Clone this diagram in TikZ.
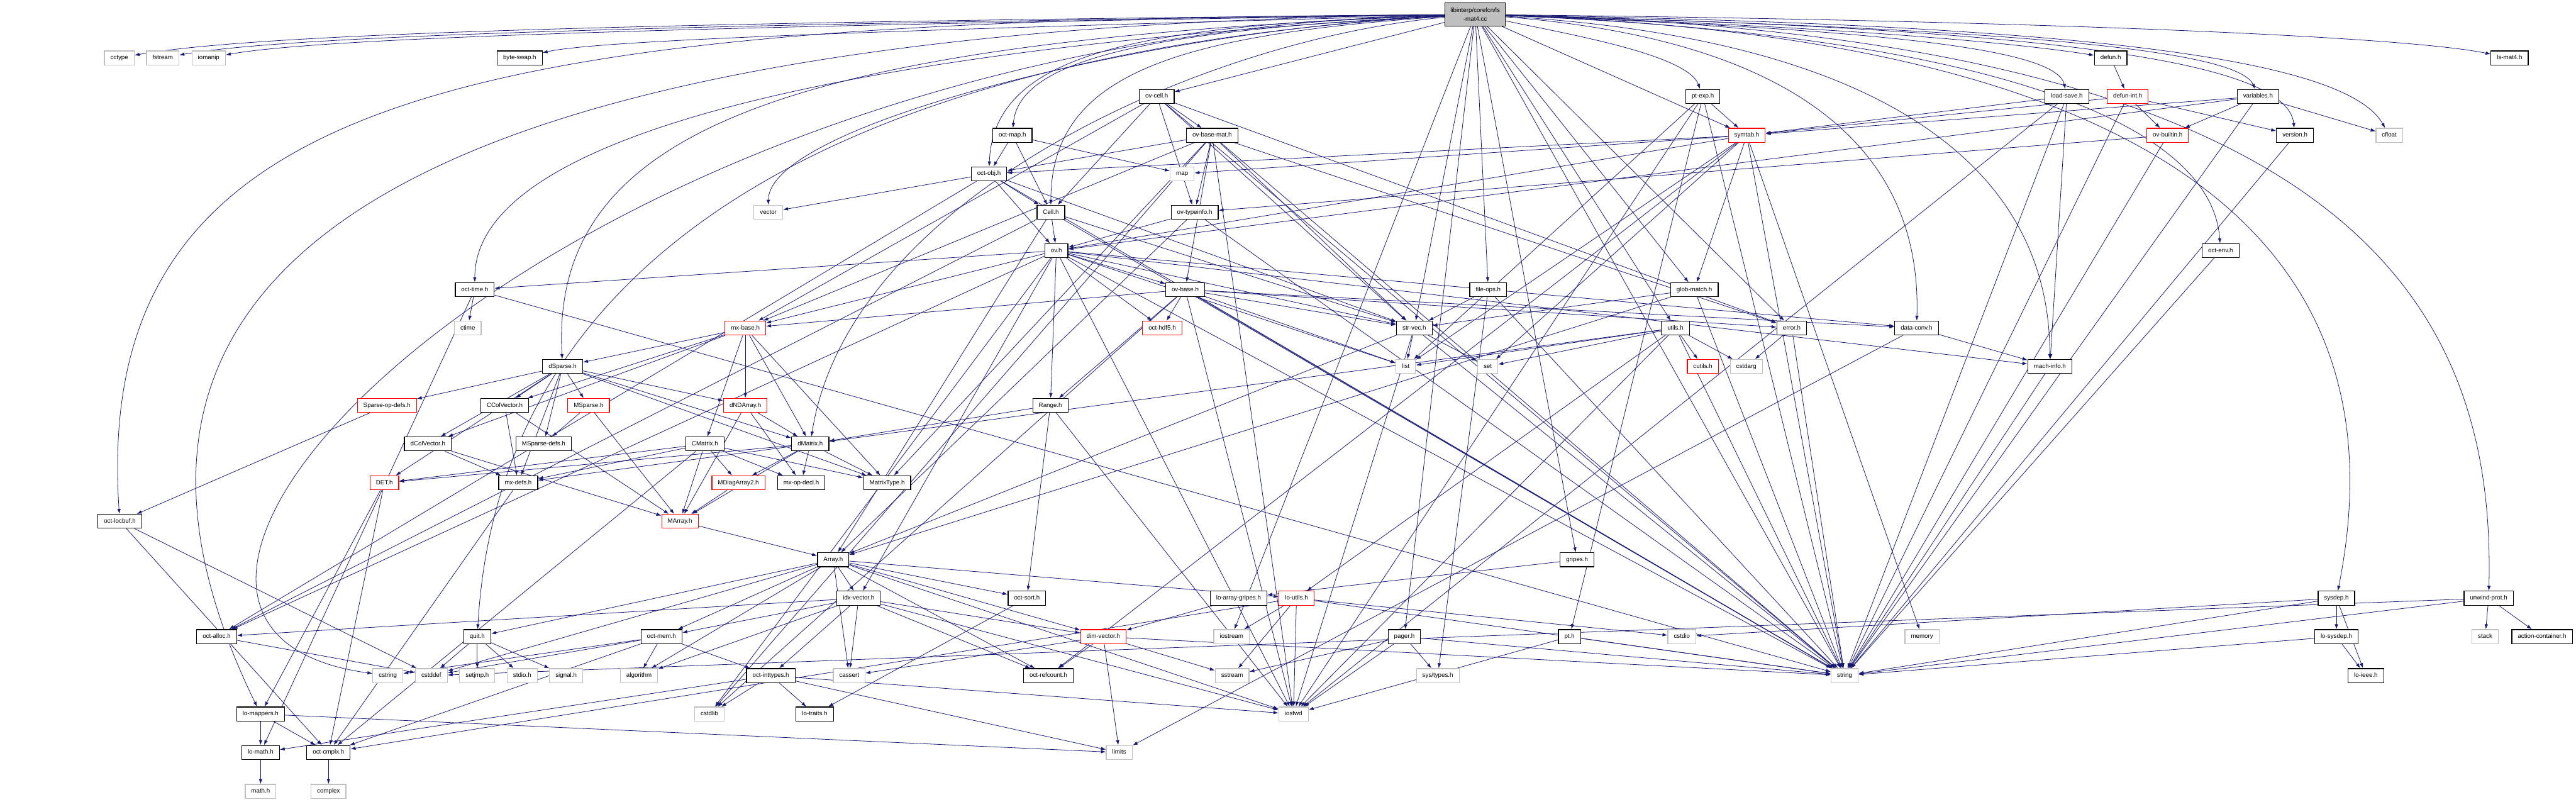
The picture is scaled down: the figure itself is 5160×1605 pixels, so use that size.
\documentclass[tikz,border=0pt]{standalone}
\usepackage{fontspec}
\setmainfont{Liberation Sans}
\usetikzlibrary{arrows.meta,backgrounds}
\definecolor{edgeblue}{HTML}{191970}
\definecolor{sysgray}{HTML}{BFBFBF}
\begin{document}
\begin{tikzpicture}[
  x=0.2mm, y=-0.2mm,
  hdr/.style={draw=black, line width=0.3mm, fill=white, inner xsep=2.4mm, inner ysep=0pt,
    minimum height=5.6mm, text height=1.85mm, text depth=0.5mm, font=\fontsize{7}{8}\selectfont},
  syshdr/.style={hdr, draw=sysgray},
  redhdr/.style={hdr, draw=red},
  srcfile/.style={draw=black, line width=0.3mm, fill=sysgray, align=center, inner xsep=2.2mm,
    minimum height=9.2mm, font=\fontsize{7}{9.5}\selectfont},
  dep/.style={->, draw=edgeblue, line width=0.2mm},
  >={Latex[length=2mm,width=1.4mm]}
]
\useasboundingbox (0,0) rectangle (5160,1605);

% source file
\node[srcfile] (lsmatcc) at (2955,29) {libinterp/corefcn/ls\\-mat4.cc};

% rank 1
\node[syshdr] (cctype) at (239,116) {cctype};
\node[syshdr] (fstream) at (326,116) {fstream};
\node[syshdr] (iomanip) at (418,116) {iomanip};
\node[hdr] (byteswap) at (1041,116) {byte-swap.h};
\node[hdr] (defun) at (4228,116) {defun.h};
\node[hdr] (lsmath) at (5027,116) {ls-mat4.h};
% rank 2
\node[hdr] (ovcell) at (2317,193) {ov-cell.h};
\node[hdr] (ptexp) at (3411,193) {pt-exp.h};
\node[hdr] (loadsave) at (4140,193) {load-save.h};
\node[redhdr] (defunint) at (4262,193) {defun-int.h};
\node[hdr] (variables) at (4523,193) {variables.h};
% rank 3
\node[hdr] (octmap) at (2028,271) {oct-map.h};
\node[hdr] (ovbasemat) at (2428,271) {ov-base-mat.h};
\node[redhdr] (symtab) at (3499,271) {symtab.h};
\node[redhdr] (ovbuiltin) at (4342,271) {ov-builtin.h};
\node[hdr] (version) at (4597,271) {version.h};
\node[syshdr] (cfloat) at (4786,271) {cfloat};
% rank 4
\node[hdr] (octobj) at (1981,348) {oct-obj.h};
\node[syshdr] (map) at (2368,348) {map};
% rank 5
\node[syshdr] (vector) at (1539,425) {vector};
\node[hdr] (cell) at (2105,425) {Cell.h};
\node[hdr] (ovtypeinfo) at (2393,425) {ov-typeinfo.h};
% rank 6
\node[hdr] (ov) at (2116,502) {ov.h};
\node[hdr] (octenv) at (4448,502) {oct-env.h};
% rank 7
\node[hdr] (octtime) at (951,580) {oct-time.h};
\node[hdr] (ovbase) at (2374,580) {ov-base.h};
\node[hdr] (fileops) at (2981,580) {file-ops.h};
\node[hdr] (globmatch) at (3394,580) {glob-match.h};
% rank 8
\node[syshdr] (ctime) at (937,657) {ctime};
\node[redhdr] (mxbase) at (1493,657) {mx-base.h};
\node[redhdr] (octhdf) at (2328,657) {oct-hdf5.h};
\node[hdr] (strvec) at (2833,657) {str-vec.h};
\node[hdr] (utils) at (3356,657) {utils.h};
\node[hdr] (error) at (3589,657) {error.h};
\node[hdr] (dataconv) at (3839,657) {data-conv.h};
% rank 9
\node[hdr] (dsparse) at (1127,734) {dSparse.h};
\node[syshdr] (list) at (2816,734) {list};
\node[syshdr] (set) at (2980,734) {set};
\node[redhdr] (cutils) at (3411,734) {cutils.h};
\node[syshdr] (cstdarg) at (3498,734) {cstdarg};
\node[hdr] (machinfo) at (4106,734) {mach-info.h};
% rank 10
\node[redhdr] (sparseopdefs) at (775,812) {Sparse-op-defs.h};
\node[hdr] (ccolvector) at (1011,812) {CColVector.h};
\node[redhdr] (msparse) at (1179,812) {MSparse.h};
\node[redhdr] (dndarray) at (1493,812) {dNDArray.h};
\node[hdr] (range) at (2104,812) {Range.h};
% rank 11
\node[hdr] (dcolvector) at (857,889) {dColVector.h};
\node[hdr] (msparsedefs) at (1089,889) {MSparse-defs.h};
\node[hdr] (cmatrix) at (1412,889) {CMatrix.h};
\node[hdr] (dmatrix) at (1623,889) {dMatrix.h};
% rank 12
\node[redhdr] (det) at (770,967) {DET.h};
\node[hdr] (mxdefs) at (1038,967) {mx-defs.h};
\node[redhdr] (mdiagarray) at (1479,967) {MDiagArray2.h};
\node[hdr] (mxopdecl) at (1605,967) {mx-op-decl.h};
\node[hdr] (matrixtype) at (1777,967) {MatrixType.h};
% rank 13
\node[hdr] (octlocbuf) at (240,1044) {oct-locbuf.h};
\node[redhdr] (marray) at (1362,1044) {MArray.h};
% rank 14
\node[hdr] (array) at (1669,1121) {Array.h};
\node[hdr] (gripes) at (3159,1121) {gripes.h};
% rank 15
\node[hdr] (idxvector) at (1720,1198) {idx-vector.h};
\node[hdr] (octsort) at (2057,1198) {oct-sort.h};
\node[hdr] (loarraygripes) at (2481,1198) {lo-array-gripes.h};
\node[redhdr] (loutils) at (2597,1198) {lo-utils.h};
\node[hdr] (sysdep) at (4680,1198) {sysdep.h};
\node[hdr] (unwindprot) at (4985,1198) {unwind-prot.h};
% rank 16
\node[hdr] (octalloc) at (434,1275) {oct-alloc.h};
\node[hdr] (quit) at (956,1275) {quit.h};
\node[hdr] (octmem) at (1325,1275) {oct-mem.h};
\node[redhdr] (dimvector) at (2210,1275) {dim-vector.h};
\node[syshdr] (iostream) at (2467,1275) {iostream};
\node[hdr] (pager) at (2813,1275) {pager.h};
\node[hdr] (pt) at (3144,1275) {pt.h};
\node[syshdr] (cstdio) at (3369,1275) {cstdio};
\node[syshdr] (memory) at (3850,1275) {memory};
\node[hdr] (losysdep) at (4680,1275) {lo-sysdep.h};
\node[syshdr] (stack) at (4978,1275) {stack};
\node[hdr] (actioncontainer) at (5092,1275) {action-container.h};
% rank 17
\node[syshdr] (cstring) at (777,1353) {cstring};
\node[syshdr] (cstddef) at (864,1353) {cstddef};
\node[syshdr] (setjmp) at (956,1353) {setjmp.h};
\node[syshdr] (stdio) at (1046,1353) {stdio.h};
\node[syshdr] (signal) at (1134,1353) {signal.h};
\node[syshdr] (algorithm) at (1280,1353) {algorithm};
\node[hdr] (octinttypes) at (1544,1353) {oct-inttypes.h};
\node[syshdr] (cassert) at (1701,1353) {cassert};
\node[hdr] (octrefcount) at (2100,1353) {oct-refcount.h};
\node[syshdr] (sstream) at (2468,1353) {sstream};
\node[syshdr] (systypes) at (2880,1353) {sys/types.h};
\node[syshdr] (string) at (3695,1353) {string};
\node[hdr] (loieee) at (4739,1353) {lo-ieee.h};
% rank 18
\node[hdr] (lomappers) at (522,1430) {lo-mappers.h};
\node[syshdr] (cstdlib) at (1421,1430) {cstdlib};
\node[hdr] (lotraits) at (1632,1430) {lo-traits.h};
\node[syshdr] (iosfwd) at (2591,1430) {iosfwd};
% rank 19
\node[hdr] (lomath) at (522,1507) {lo-math.h};
\node[hdr] (octcmplx) at (658,1507) {oct-cmplx.h};
\node[syshdr] (limits) at (2242,1507) {limits};
% rank 20
\node[syshdr] (mathh) at (522,1585) {math.h};
\node[syshdr] (complex) at (658,1585) {complex};

\begin{scope}[on background layer]
% includes of the source file
\draw[dep] (lsmatcc) .. controls (1200,45) and (500,70) .. (cctype);
\draw[dep] (lsmatcc) .. controls (1200,50) and (560,75) .. (fstream);
\draw[dep] (lsmatcc) .. controls (1200,55) and (620,80) .. (iomanip);
\draw[dep] (lsmatcc) .. controls (1800,60) and (1200,80) .. (byteswap);
\draw[dep] (lsmatcc) .. controls (1000,40) and (180,150) .. (octlocbuf);
\draw[dep] (lsmatcc) .. controls (1100,50) and (20,400) .. (lomappers);
\draw[dep] (lsmatcc) .. controls (1800,90) and (951,250) .. (octtime);
\draw[dep] (lsmatcc) .. controls (1700,100) and (1000,500) .. (quit);
\draw[dep] (lsmatcc) .. controls (1600,80) and (1100,250) .. (dsparse);
\draw[dep] (lsmatcc) .. controls (1100,70) and (20,1250) .. (cstring);
\draw[dep] (lsmatcc) .. controls (2300,60) and (1539,250) .. (vector);
\draw[dep] (lsmatcc) .. controls (2400,80) and (1700,400) .. (dmatrix);
\draw[dep] (lsmatcc) .. controls (2300,60) and (2040,120) .. (octmap);
\draw[dep] (lsmatcc) .. controls (2300,50) and (1990,100) .. (octobj);
\draw[dep] (lsmatcc) .. controls (2350,70) and (2105,150) .. (cell);
\draw[dep] (lsmatcc) -- (ovcell);
\draw[dep] (lsmatcc) -- (strvec);
\draw[dep] (lsmatcc) -- (fileops);
\draw[dep] (lsmatcc) -- (iostream);
\draw[dep] (lsmatcc) -- (pager);
\draw[dep] (lsmatcc) -- (gripes);
\draw[dep] (lsmatcc) -- (globmatch);
\draw[dep] (lsmatcc) -- (symtab);
\draw[dep] (lsmatcc) .. controls (3150,70) and (3380,110) .. (ptexp);
\draw[dep] (lsmatcc) -- (utils);
\draw[dep] (lsmatcc) -- (error);
\draw[dep] (lsmatcc) -- (string);
\draw[dep] (lsmatcc) .. controls (3600,80) and (3850,300) .. (dataconv);
\draw[dep] (lsmatcc) .. controls (3800,80) and (4106,350) .. (machinfo);
\draw[dep] (lsmatcc) .. controls (3600,50) and (4000,80) .. (defun);
\draw[dep] (lsmatcc) .. controls (4000,40) and (4800,70) .. (lsmath);
\draw[dep] (lsmatcc) .. controls (3800,60) and (4120,100) .. (loadsave);
\draw[dep] (lsmatcc) .. controls (3900,55) and (4480,90) .. (variables);
\draw[dep] (lsmatcc) .. controls (4000,55) and (4580,110) .. (version);
\draw[dep] (lsmatcc) .. controls (4200,50) and (4700,120) .. (cfloat);
\draw[dep] (lsmatcc) .. controls (4000,70) and (4430,250) .. (octenv);
\draw[dep] (lsmatcc) .. controls (4500,80) and (4800,600) .. (sysdep);
\draw[dep] (lsmatcc) .. controls (4700,70) and (5000,600) .. (unwindprot);

% interpreter headers
\draw[dep] (defun) -- (defunint);
\draw[dep] (defunint) -- (ovbuiltin);
\draw[dep] (defunint) -- (version);
\draw[dep] (defunint) -- (symtab);
\draw[dep] (defunint) -- (string);
\draw[dep] (loadsave) -- (symtab);
\draw[dep] (loadsave) -- (machinfo);
\draw[dep] (loadsave) -- (iosfwd);
\draw[dep] (loadsave) -- (string);
\draw[dep] (variables) -- (ovbuiltin);
\draw[dep] (variables) -- (symtab);
\draw[dep] (variables) -- (cfloat);
\draw[dep] (variables) -- (string);
\draw[dep] (variables) -- (ov);
\draw[dep] (ovbuiltin) -- (ovtypeinfo);
\draw[dep] (ovbuiltin) -- (string);
\draw[dep] (version) -- (string);
\draw[dep] (ptexp) -- (symtab);
\draw[dep] (ptexp) -- (pt);
\draw[dep] (ptexp) -- (list);
\draw[dep] (ptexp) -- (string);
\draw[dep] (ptexp) -- (iosfwd);
\draw[dep] (symtab) -- (map);
\draw[dep] (symtab) -- (octobj);
\draw[dep] (symtab) -- (globmatch);
\draw[dep] (symtab) -- (list);
\draw[dep] (symtab) -- (set);
\draw[dep] (symtab) -- (string);
\draw[dep] (symtab) -- (ov);
\draw[dep] (symtab) -- (octrefcount);
\draw[dep] (symtab) -- (memory);
\draw[dep] (ovcell) -- (cell);
\draw[dep] (ovcell) -- (ovbasemat);
\draw[dep] (ovcell) -- (ovtypeinfo);
\draw[dep] (ovcell) -- (mxbase);
\draw[dep] (ovcell) -- (strvec);
\draw[dep] (ovcell) -- (error);
\draw[dep] (ovcell) -- (string);
\draw[dep] (octmap) -- (octobj);
\draw[dep] (octmap) -- (cell);
\draw[dep] (octmap) -- (map);
\draw[dep] (ovbasemat) -- (octobj);
\draw[dep] (ovbasemat) -- (ovtypeinfo);
\draw[dep] (ovbasemat) -- (ovbase);
\draw[dep] (ovbasemat) -- (mxbase);
\draw[dep] (ovbasemat) -- (matrixtype);
\draw[dep] (ovbasemat) -- (strvec);
\draw[dep] (ovbasemat) -- (error);
\draw[dep] (ovbasemat) -- (cstdlib);
\draw[dep] (ovbasemat) -- (iosfwd);
\draw[dep] (ovbasemat) -- (string);
\draw[dep] (octobj) -- (vector);
\draw[dep] (octobj) -- (cell);
\draw[dep] (octobj) -- (ov);
\draw[dep] (octobj) -- (octalloc);
\draw[dep] (octobj) -- (strvec);
\draw[dep] (octobj) -- (string);
\draw[dep] (cell) -- (ov);
\draw[dep] (cell) -- (array);
\draw[dep] (cell) -- (octalloc);
\draw[dep] (cell) -- (strvec);
\draw[dep] (cell) -- (string);
\draw[dep] (ovtypeinfo) -- (ov);
\draw[dep] (ovtypeinfo) -- (array);
\draw[dep] (ovtypeinfo) -- (string);
\draw[dep] (ov) -- (ovbase);
\draw[dep] (ov) -- (range);
\draw[dep] (ov) -- (dataconv);
\draw[dep] (ov) -- (idxvector);
\draw[dep] (ov) -- (machinfo);
\draw[dep] (ov) -- (mxbase);
\draw[dep] (ov) -- (octalloc);
\draw[dep] (ov) -- (octtime);
\draw[dep] (ov) -- (strvec);
\draw[dep] (ov) -- (octhdf);
\draw[dep] (ov) -- (cstdlib);
\draw[dep] (ov) -- (iosfwd);
\draw[dep] (ov) -- (list);
\draw[dep] (ov) -- (string);
\draw[dep] (ovbase) -- (range);
\draw[dep] (ovbase) -- (dataconv);
\draw[dep] (ovbase) -- (mxbase);
\draw[dep] (ovbase) -- (strvec);
\draw[dep] (ovbase) -- (octhdf);
\draw[dep] (ovbase) -- (error);
\draw[dep] (ovbase) -- (cstdlib);
\draw[dep] (ovbase) -- (iosfwd);
\draw[dep] (ovbase) -- (list);
\draw[dep] (ovbase) -- (string);
\draw[dep] (octenv) -- (string);
\draw[dep] (octtime) -- (ctime);
\draw[dep] (octtime) -- (lomath);
\draw[dep] (octtime) -- (string);
\draw[dep] (fileops) -- (systypes);
\draw[dep] (fileops) -- (strvec);
\draw[dep] (fileops) -- (string);
\draw[dep] (globmatch) -- (strvec);
\draw[dep] (globmatch) -- (array);
\draw[dep] (globmatch) -- (string);
\draw[dep] (strvec) -- (list);
\draw[dep] (strvec) -- (set);
\draw[dep] (strvec) -- (iosfwd);
\draw[dep] (strvec) -- (array);
\draw[dep] (strvec) -- (string);
\draw[dep] (utils) -- (cutils);
\draw[dep] (utils) -- (cstdarg);
\draw[dep] (utils) -- (list);
\draw[dep] (utils) -- (set);
\draw[dep] (utils) -- (dmatrix);
\draw[dep] (utils) -- (loutils);
\draw[dep] (utils) -- (iosfwd);
\draw[dep] (utils) -- (string);
\draw[dep] (error) -- (cstdarg);
\draw[dep] (error) -- (string);
\draw[dep] (dataconv) -- (machinfo);
\draw[dep] (dataconv) -- (limits);
\draw[dep] (machinfo) -- (string);

% matrix headers
\draw[dep] (mxbase) -- (dndarray);
\draw[dep] (mxbase) -- (cmatrix);
\draw[dep] (mxbase) -- (dmatrix);
\draw[dep] (mxbase) -- (matrixtype);
\draw[dep] (mxbase) -- (ccolvector);
\draw[dep] (mxbase) -- (dcolvector);
\draw[dep] (mxbase) -- (dsparse);
\draw[dep] (dsparse) -- (sparseopdefs);
\draw[dep] (dsparse) -- (ccolvector);
\draw[dep] (dsparse) -- (dcolvector);
\draw[dep] (dsparse) -- (msparse);
\draw[dep] (dsparse) -- (msparsedefs);
\draw[dep] (dsparse) -- (det);
\draw[dep] (dsparse) -- (mxdefs);
\draw[dep] (dsparse) -- (dmatrix);
\draw[dep] (dsparse) -- (dndarray);
\draw[dep] (dsparse) -- (matrixtype);
\draw[dep] (sparseopdefs) -- (octlocbuf);
\draw[dep] (ccolvector) -- (marray);
\draw[dep] (ccolvector) -- (mxdefs);
\draw[dep] (msparse) -- (msparsedefs);
\draw[dep] (msparse) -- (marray);
\draw[dep] (dcolvector) -- (marray);
\draw[dep] (dcolvector) -- (mxdefs);
\draw[dep] (det) -- (octcmplx);
\draw[dep] (det) -- (lomappers);
\draw[dep] (mxdefs) -- (octcmplx);
\draw[dep] (dndarray) -- (dmatrix);
\draw[dep] (dndarray) -- (mxopdecl);
\draw[dep] (dndarray) -- (marray);
\draw[dep] (cmatrix) -- (marray);
\draw[dep] (cmatrix) -- (mdiagarray);
\draw[dep] (cmatrix) -- (mxopdecl);
\draw[dep] (cmatrix) -- (matrixtype);
\draw[dep] (cmatrix) -- (mxdefs);
\draw[dep] (cmatrix) -- (det);
\draw[dep] (cmatrix) -- (octcmplx);
\draw[dep] (dmatrix) -- (marray);
\draw[dep] (dmatrix) -- (mdiagarray);
\draw[dep] (dmatrix) -- (mxopdecl);
\draw[dep] (dmatrix) -- (matrixtype);
\draw[dep] (dmatrix) -- (mxdefs);
\draw[dep] (dmatrix) -- (det);
\draw[dep] (range) -- (dmatrix);
\draw[dep] (range) -- (octsort);
\draw[dep] (range) -- (iosfwd);
\draw[dep] (mdiagarray) -- (marray);
\draw[dep] (marray) -- (array);

% liboctave util headers
\draw[dep] (array) -- (idxvector);
\draw[dep] (array) -- (dimvector);
\draw[dep] (array) -- (octsort);
\draw[dep] (array) -- (loutils);
\draw[dep] (array) -- (quit);
\draw[dep] (array) -- (octmem);
\draw[dep] (array) -- (octrefcount);
\draw[dep] (array) -- (cassert);
\draw[dep] (array) -- (cstddef);
\draw[dep] (array) -- (algorithm);
\draw[dep] (array) -- (iosfwd);
\draw[dep] (idxvector) -- (dimvector);
\draw[dep] (idxvector) -- (octinttypes);
\draw[dep] (idxvector) -- (octalloc);
\draw[dep] (idxvector) -- (octmem);
\draw[dep] (idxvector) -- (octrefcount);
\draw[dep] (idxvector) -- (cassert);
\draw[dep] (idxvector) -- (algorithm);
\draw[dep] (idxvector) -- (iosfwd);
\draw[dep] (octsort) -- (lotraits);
\draw[dep] (loarraygripes) -- (dimvector);
\draw[dep] (dimvector) -- (cassert);
\draw[dep] (dimvector) -- (limits);
\draw[dep] (dimvector) -- (sstream);
\draw[dep] (dimvector) -- (string);
\draw[dep] (dimvector) -- (octrefcount);
\draw[dep] (loutils) -- (cstdio);
\draw[dep] (loutils) -- (iostream);
\draw[dep] (loutils) -- (sstream);
\draw[dep] (loutils) -- (string);
\draw[dep] (loutils) -- (octcmplx);
\draw[dep] (loutils) -- (iosfwd);
\draw[dep] (octmem) -- (cstddef);
\draw[dep] (octmem) -- (cstring);
\draw[dep] (octmem) -- (algorithm);
\draw[dep] (octmem) -- (octcmplx);
\draw[dep] (octmem) -- (octinttypes);
\draw[dep] (octinttypes) -- (cstdlib);
\draw[dep] (octinttypes) -- (limits);
\draw[dep] (octinttypes) -- (iosfwd);
\draw[dep] (octinttypes) -- (lotraits);
\draw[dep] (octinttypes) -- (lomath);
\draw[dep] (gripes) -- (loarraygripes);
\draw[dep] (pager) -- (iosfwd);
\draw[dep] (pager) -- (sstream);
\draw[dep] (pager) -- (string);
\draw[dep] (pager) -- (systypes);
\draw[dep] (pt) -- (string);
\draw[dep] (pt) -- (iosfwd);
\draw[dep] (quit) -- (cstddef);
\draw[dep] (quit) -- (setjmp);
\draw[dep] (quit) -- (stdio);
\draw[dep] (quit) -- (signal);
\draw[dep] (octalloc) -- (cstddef);
\draw[dep] (octlocbuf) -- (cstddef);
\draw[dep] (octlocbuf) -- (octcmplx);
\draw[dep] (lomappers) -- (limits);
\draw[dep] (lomappers) -- (octcmplx);
\draw[dep] (lomappers) -- (lomath);
\draw[dep] (lomath) -- (mathh);
\draw[dep] (octcmplx) -- (complex);
\draw[dep] (sysdep) -- (losysdep);
\draw[dep] (sysdep) -- (loieee);
\draw[dep] (sysdep) -- (string);
\draw[dep] (sysdep) -- (cstdio);
\draw[dep] (losysdep) -- (loieee);
\draw[dep] (losysdep) -- (string);
\draw[dep] (unwindprot) -- (stack);
\draw[dep] (unwindprot) -- (actioncontainer);
\draw[dep] (unwindprot) -- (cstddef);
\draw[dep] (unwindprot) -- (string);
\end{scope}
\end{tikzpicture}
\end{document}
